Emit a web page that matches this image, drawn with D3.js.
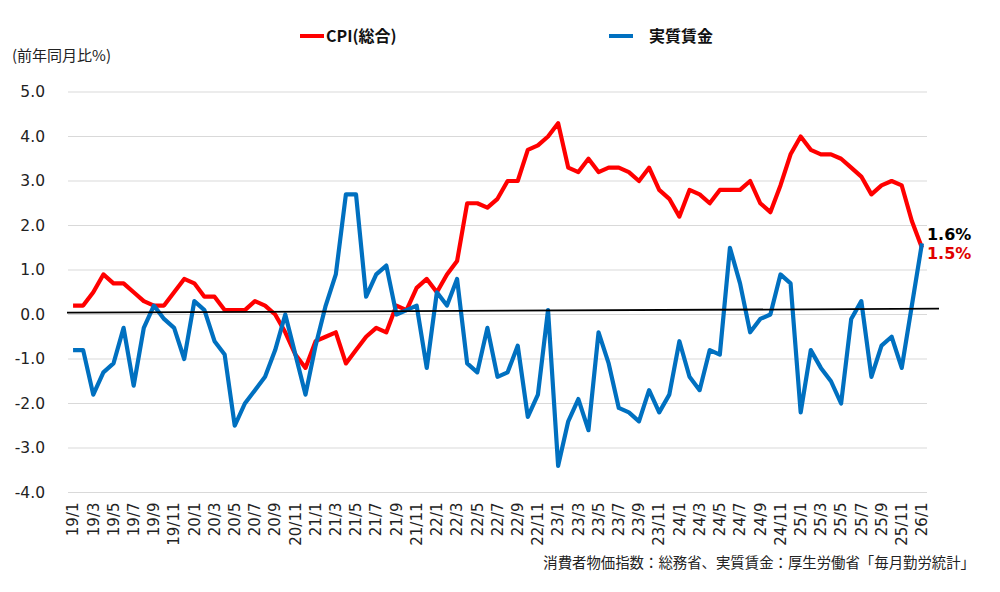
<!DOCTYPE html>
<html>
<head>
<meta charset="utf-8">
<script src="https://cdn.jsdelivr.net/npm/d3@7"></script>
<style>
  body { margin: 0; background: #fff; }
  svg { display: block; }
</style>
</head>
<body>
<div class="container"></div>
<script>
// month labels, 19/1 .. 26/1
var months = [
  "19/1","19/2","19/3","19/4","19/5","19/6","19/7","19/8","19/9","19/10","19/11","19/12",
  "20/1","20/2","20/3","20/4","20/5","20/6","20/7","20/8","20/9","20/10","20/11","20/12",
  "21/1","21/2","21/3","21/4","21/5","21/6","21/7","21/8","21/9","21/10","21/11","21/12",
  "22/1","22/2","22/3","22/4","22/5","22/6","22/7","22/8","22/9","22/10","22/11","22/12",
  "23/1","23/2","23/3","23/4","23/5","23/6","23/7","23/8","23/9","23/10","23/11","23/12",
  "24/1","24/2","24/3","24/4","24/5","24/6","24/7","24/8","24/9","24/10","24/11","24/12",
  "25/1","25/2","25/3","25/4","25/5","25/6","25/7","25/8","25/9","25/10","25/11","25/12",
  "26/1"
];

// CPI(総合) 前年同月比
var cpi = [
  0.2, 0.2, 0.5, 0.9, 0.7, 0.7, 0.5, 0.3, 0.2, 0.2, 0.5, 0.8,
  0.7, 0.4, 0.4, 0.1, 0.1, 0.1, 0.3, 0.2, 0.0, -0.4, -0.9, -1.2,
  -0.6, -0.5, -0.4, -1.1, -0.8, -0.5, -0.3, -0.4, 0.2, 0.1, 0.6, 0.8,
  0.5, 0.9, 1.2, 2.5, 2.5, 2.4, 2.6, 3.0, 3.0, 3.7, 3.8, 4.0,
  4.3, 3.3, 3.2, 3.5, 3.2, 3.3, 3.3, 3.2, 3.0, 3.3, 2.8, 2.6,
  2.2, 2.8, 2.7, 2.5, 2.8, 2.8, 2.8, 3.0, 2.5, 2.3, 2.9, 3.6,
  4.0, 3.7, 3.6, 3.6, 3.5, 3.3, 3.1, 2.7, 2.9, 3.0, 2.9, 2.1,
  1.5
];

// 実質賃金 前年同月比
var wage = [
  -0.8, -0.8, -1.8, -1.3, -1.1, -0.3, -1.6, -0.3, 0.2, -0.1, -0.3, -1.0,
  0.3, 0.1, -0.6, -0.9, -2.5, -2.0, -1.7, -1.4, -0.8, 0.0, -0.9, -1.8,
  -0.7, 0.2, 0.9, 2.7, 2.7, 0.4, 0.9, 1.1, 0.0, 0.1, 0.2, -1.2,
  0.5, 0.2, 0.8, -1.1, -1.3, -0.3, -1.4, -1.3, -0.7, -2.3, -1.8, 0.1,
  -3.4, -2.4, -1.9, -2.6, -0.4, -1.1, -2.1, -2.2, -2.4, -1.7, -2.2, -1.8,
  -0.6, -1.4, -1.7, -0.8, -0.9, 1.5, 0.7, -0.4, -0.1, 0.0, 0.9, 0.7,
  -2.2, -0.8, -1.2, -1.5, -2.0, -0.1, 0.3, -1.4, -0.7, -0.5, -1.2, 0.2,
  1.6
];

var yTicks = [-4, -3, -2, -1, 0, 1, 2, 3, 4, 5];
var xTicks = months.filter(function (m) { return +m.split("/")[1] % 2 === 1; });

// the black base line is drawn slightly tilted in the original
var baseLine = [0.04, 0.13];

var series = [
  {name: "CPI(総合)", values: cpi, color: "#ff0000"},
  {name: "実質賃金", values: wage, color: "#0070c0"}
];

var W = 1000, H = 592;
var svg = d3.select(".container").append("svg")
  .attr("width", W).attr("height", H);

var x = d3.scaleBand().domain(months).range([68, 927]).paddingInner(0).paddingOuter(0);
var y = d3.scaleLinear().domain([-4, 5]).range([492.5, 92]);
function cx(m) { return x(m) + x.bandwidth() / 2; }

// gridlines
svg.append("g").selectAll("line").data(yTicks).enter().append("line")
  .attr("x1", 68).attr("x2", 927)
  .attr("y1", function (d) { return y(d); })
  .attr("y2", function (d) { return y(d); })
  .attr("stroke", "#d9d9d9").attr("stroke-width", 1);

// y axis (plain hyphen for minus, like the original)
var yAxis = svg.append("g").attr("transform", "translate(68,0)")
  .call(d3.axisLeft(y).tickValues(yTicks)
    .tickFormat(function (d) { return d.toFixed(1); })
    .tickSize(0).tickPadding(23));
yAxis.select(".domain").remove();
yAxis.selectAll("text")
  .attr("font-family", "DejaVu Sans, Verdana, sans-serif")
  .attr("font-size", 15.5).attr("fill", "#222");

// x axis
var xAxis = svg.append("g").attr("transform", "translate(0," + y(-4) + ")")
  .call(d3.axisBottom(x).tickValues(xTicks).tickSize(0));
xAxis.select(".domain").remove();
xAxis.selectAll("text")
  .attr("font-family", "DejaVu Sans, Verdana, sans-serif")
  .attr("font-size", 15).attr("fill", "#222")
  .attr("text-anchor", "end")
  .attr("transform", "rotate(-90)")
  .attr("x", -10).attr("y", 0).attr("dy", "0.35em");

// lines
var line = d3.line()
  .x(function (d, i) { return cx(months[i]); })
  .y(function (d) { return y(d); });

svg.append("g").selectAll("path").data(series).enter().append("path")
  .attr("d", function (s) { return line(s.values); })
  .attr("fill", "none")
  .attr("stroke", function (s) { return s.color; })
  .attr("stroke-width", 4.2)
  .attr("stroke-linejoin", "round");

// base line
svg.append("line")
  .attr("x1", 67).attr("x2", 939)
  .attr("y1", y(baseLine[0])).attr("y2", y(baseLine[1]))
  .attr("stroke", "#000").attr("stroke-width", 1.8);

// end labels
var last = months[months.length - 1];
svg.append("text").text(wage[wage.length - 1].toFixed(1) + "%")
  .attr("x", cx(last) + 5).attr("y", 240)
  .attr("font-family", "DejaVu Sans, Verdana, sans-serif")
  .attr("font-size", 16).attr("font-weight", "bold").attr("fill", "#000");
svg.append("text").text(cpi[cpi.length - 1].toFixed(1) + "%")
  .attr("x", cx(last) + 5).attr("y", 259)
  .attr("font-family", "DejaVu Sans, Verdana, sans-serif")
  .attr("font-size", 16).attr("font-weight", "bold").attr("fill", "#e00000");

// legend
var legendX = [300, 609];
var lg = svg.append("g").selectAll("g").data(series).enter().append("g")
  .attr("transform", function (s, i) { return "translate(" + legendX[i] + ",36)"; });
lg.append("line").attr("x1", 0).attr("x2", 24).attr("y1", 0).attr("y2", 0)
  .attr("stroke", function (s) { return s.color; }).attr("stroke-width", 4);
lg.append("text").text(function (s) { return s.name; })
  .attr("x", function (s, i) { return i === 0 ? 26 : 40; }).attr("dy", "0.36em")
  .attr("font-family", "Noto Sans CJK JP, sans-serif")
  .attr("font-size", 16).attr("font-weight", "bold").attr("fill", "#111");

// unit
svg.append("text").text("(前年同月比%)")
  .attr("x", 12).attr("y", 56).attr("dy", "0.35em")
  .attr("font-family", "Noto Sans CJK JP, sans-serif")
  .attr("font-size", 15).attr("fill", "#222");

// source
svg.append("text").text("消費者物価指数：総務省、実質賃金：厚生労働省「毎月勤労統計」")
  .attr("x", 975).attr("y", 568).attr("text-anchor", "end")
  .attr("font-family", "Noto Sans CJK JP, sans-serif")
  .attr("font-size", 14.4).attr("fill", "#222");
</script>
</body>
</html>
